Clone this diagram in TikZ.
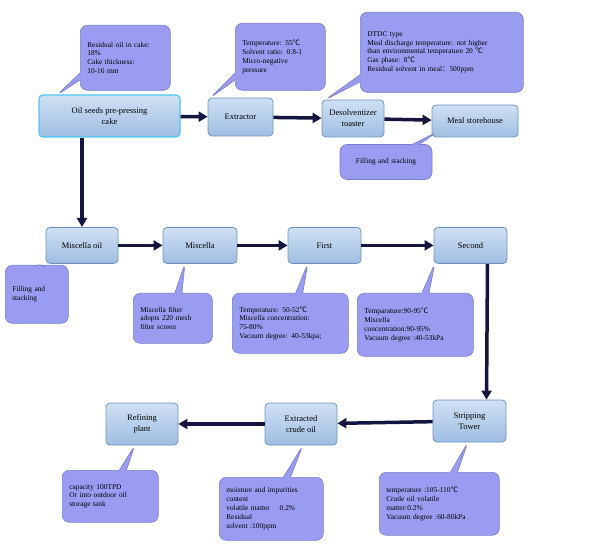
\documentclass[tikz,border=0pt]{standalone}
\usepackage{fontspec}
\setmainfont{Liberation Serif}
\newfontfamily\cjkf{Noto Sans CJK SC}
\newcommand\degC{{\cjkf ℃}}
\newcommand\fcolon{{\cjkf ：}}
\usetikzlibrary{shapes.callouts,arrows.meta}
\definecolor{cfill}{HTML}{9A9CF2}
\definecolor{cdraw}{HTML}{7A7CC8}
\definecolor{btop}{HTML}{CFE0F3}
\definecolor{bbot}{HTML}{9FBEE2}
\definecolor{bdraw}{HTML}{6F93BD}
\definecolor{navy}{HTML}{14163F}
\tikzset{
  box/.style={draw=bdraw, line width=0.8pt, top color=btop, bottom color=bbot, rounded corners=4pt, align=center, font=\fontsize{8.5}{11}\selectfont, inner sep=2pt},
  note/.style={rectangle callout, draw=cdraw, fill=cfill, line width=0.6pt, rounded corners=7pt, align=left, anchor=north west, font=\fontsize{7.4}{8.8}\selectfont, inner xsep=7pt, inner ysep=6pt},
  arr/.style={draw=navy, line width=3.5pt, -{Triangle[length=9pt,width=10pt]}}
}
\begin{document}
\begin{tikzpicture}[x=1pt,y=-1pt]
\useasboundingbox (0,0) rectangle (600,556);
% boxes
\node[box, draw=cyan!70!white, line width=1.2pt, minimum width=141pt, minimum height=42pt] (oil) at (109.5,116) {Oil seeds pre-pressing\\cake};
\node[box, minimum width=65pt, minimum height=38pt] (ext) at (240.5,117) {Extractor};
\node[box, minimum width=62pt, minimum height=37pt] (des) at (353,118.5) {Desolventizer\\toaster};
\node[box, minimum width=86pt, minimum height=32pt] (meal) at (475,121) {Meal storehouse};
\node[box, minimum width=72pt, minimum height=36pt, anchor=north] (mo) at (82,227) {Miscella oil};
\node[box, minimum width=74pt, minimum height=36pt, anchor=north] (mis) at (200,227) {Miscella};
\node[box, minimum width=73pt, minimum height=36pt, anchor=north] (first) at (324.5,227) {First};
\node[box, minimum width=73pt, minimum height=36pt, anchor=north] (second) at (470.5,227) {Second};
\node[box, minimum width=73pt, minimum height=42pt] (strip) at (469.5,421) {Stripping\\Tower};
\node[box, minimum width=72pt, minimum height=42pt] (crude) at (301,424) {Extracted\\crude oil};
\node[box, minimum width=72pt, minimum height=42pt] (ref) at (142,424) {Refining\\plant};
% arrows
\draw[arr] (oil) -- (ext);
\draw[arr] (ext) -- (des);
\draw[arr] (des) -- (meal);
\draw[arr] (oil.south -| mo.north) -- (mo.north);
\draw[arr] (mo) -- (mis);
\draw[arr] (mis) -- (first);
\draw[arr] (first) -- (second);
\draw[arr] ([xshift=17pt]second.south) -- ([xshift=17pt]strip.north);
\draw[arr] (strip) -- (crude);
\draw[arr] (crude) -- (ref);
% callouts
\node[note, text width=76pt, minimum height=65pt, callout absolute pointer={(57,95)}] (c1) at (80,25) {Residual oil in cake:\\18\%\\Cake thickness:\\10-16 mm};
\node[note, text width=76pt, minimum height=67pt, callout absolute pointer={(210,98)}] (c2) at (235,23) {Temperature: 55\degC\\Solvent ratio: 0.8-1\\Micro-negative\\pressure};
\node[note, text width=149pt, minimum height=80pt, callout absolute pointer={(325,100)}, inner ysep=4pt] (c3) at (360,12) {DTDC type\\Meal discharge temperature: not higher\\than environmental temperature 20 \degC\\Gas phase: 8\degC\\Residual solvent in meal\fcolon 500ppm};
\node[note, text width=78pt, minimum height=35pt, align=center, anchor=center, callout absolute pointer={(437,132)}] (c4) at (386,162) {Filling and stacking};
\node[note, text width=49pt, minimum height=58pt, callout absolute pointer={(40,262)}, inner ysep=18pt] (c5) at (5,265) {Filling and\\stacking};
\node[note, text width=65pt, minimum height=50pt, callout absolute pointer={(185,263)}] (c6) at (133,293) {Miscella filter\\adopts 220 mesh\\filter screen};
\node[note, text width=102pt, minimum height=60pt, callout absolute pointer={(308,263)}] (c7) at (232,293) {Temperature: 50-52\degC\\Miscella concentration:\\75-80\%\\Vacuum degree: 40-53kpa;};
\node[note, text width=102pt, minimum height=63pt, callout absolute pointer={(435,263)}] (c8) at (357,293) {Temparature:90-95\degC\\Miscella\\concentration:90-95\%\\Vacuum degree :40-53kPa};
\node[note, text width=82pt, minimum height=52pt, callout absolute pointer={(135,445)}] (c9) at (62,470) {capacity 100TPD\\Or into outdoor oil\\storage tank};
\node[note, text width=90pt, minimum height=63pt, callout absolute pointer={(303,445)}] (c10) at (219,477) {moisture and impurities\\content\\volatile matter \quad 0.2\%\\Residual\\solvent :100ppm};
\node[note, text width=106pt, minimum height=63pt, callout absolute pointer={(468,442)}] (c11) at (379,472) {temperature :105-110\degC\\Crude oil volatile\\matter:0.2\%\\Vacuum degree :60-80kPa};
\end{tikzpicture}
\end{document}
